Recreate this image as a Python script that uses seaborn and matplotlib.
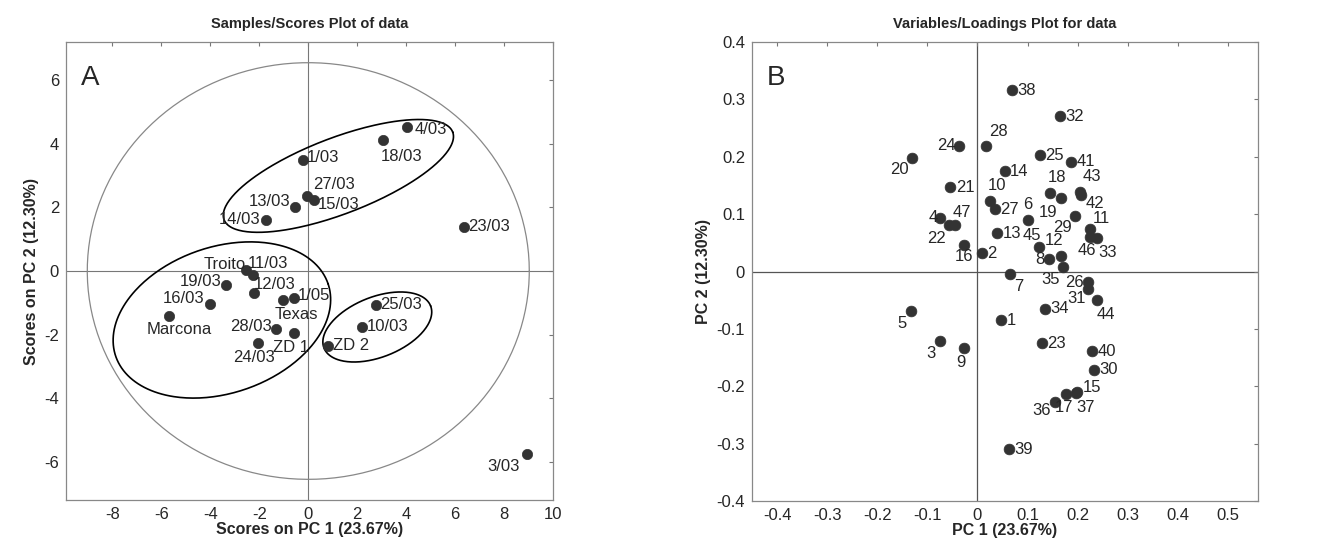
import numpy as np
import pandas as pd
import matplotlib.pyplot as plt
import seaborn as sns

# scores (panel A)
sample_names = ["4/03", "18/03", "1/03", "27/03", "15/03", "13/03", "14/03", "23/03",
                "Troito", "11/03", "19/03", "12/03", "16/03", "Texas", "1/05", "Marcona",
                "28/03", "ZD 1", "24/03", "ZD 2", "25/03", "10/03", "3/03"]
pc1_scores = [4.05, 3.07, -0.23, -0.04, 0.23, -0.55, -1.71, 6.38,
              -2.55, -2.25, -3.37, -2.21, -4.02, -1.05, -0.59, -5.70,
              -1.30, -0.59, -2.05, 0.82, 2.76, 2.20, 8.94]
pc2_scores = [4.53, 4.11, 3.48, 2.35, 2.22, 2.01, 1.59, 1.39,
              0.04, -0.12, -0.43, -0.69, -1.03, -0.90, -0.85, -1.43,
              -1.82, -1.95, -2.27, -2.35, -1.06, -1.76, -5.75]

# loadings (panel B)
var_names = [str(i) for i in range(1, 48)]
pc1_load = [0.047, 0.009, -0.075, -0.074, -0.133, 0.100, 0.065, 0.143, -0.027, 0.026,
            0.224, 0.166, 0.040, 0.054, 0.199, -0.027, 0.176, 0.145, 0.167, -0.131,
            -0.054, -0.057, 0.128, -0.037, 0.124, 0.221, 0.035, 0.017, 0.195, 0.233,
            0.221, 0.164, 0.238, 0.135, 0.170, 0.154, 0.197, 0.068, 0.063, 0.228,
            0.187, 0.207, 0.205, 0.238, 0.122, 0.224, -0.045]
pc2_load = [-0.085, 0.032, -0.121, 0.094, -0.068, 0.090, -0.004, 0.021, -0.133, 0.123,
            0.075, 0.027, 0.067, 0.175, -0.210, 0.046, -0.214, 0.137, 0.128, 0.198,
            0.147, 0.081, -0.125, 0.219, 0.203, -0.019, 0.109, 0.219, 0.097, -0.171,
            -0.030, 0.271, 0.059, -0.065, 0.008, -0.227, -0.212, 0.316, -0.310, -0.139,
            0.191, 0.134, 0.138, -0.050, 0.043, 0.061, 0.081]

# confidence ellipse (95%) and group ellipses: center, half-axis vectors
conf_ellipse = [0.0, 0.0, 9.03, 6.55]
group_ellipses = [
    [1.23, 2.99, 4.67, 1.38, -0.556, 1.114],
    [-3.53, -1.54, 4.337, 1.142, -0.968, 2.174],
    [2.82, -1.76, 2.178, 0.663, -0.452, 0.879],
]

# label offsets in points (dx, dy, ha, va)
score_offsets = {
    "4/03": (5, -2, "left", "center"), "18/03": (-2, -6, "left", "top"),
    "1/03": (3, 2, "left", "center"), "27/03": (4, 3, "left", "bottom"),
    "15/03": (3, -3, "left", "center"), "13/03": (-3, 4, "right", "center"),
    "14/03": (-4, 1, "right", "center"), "23/03": (3, 0, "left", "center"),
    "Troito": (0, 4, "right", "center"), "11/03": (-4, 8, "left", "center"),
    "19/03": (-3, 2, "right", "center"), "12/03": (0, 6, "left", "center"),
    "16/03": (-4, 4, "right", "center"), "Texas": (-6, -5, "left", "top"),
    "1/05": (3, 2, "left", "center"), "Marcona": (-16, -4, "left", "top"),
    "28/03": (-3, 2, "right", "center"), "ZD 1": (-2, -5, "center", "top"),
    "24/03": (-3, -5, "center", "top"), "ZD 2": (3, 0, "left", "center"),
    "25/03": (3, 0, "left", "center"), "10/03": (3, 0, "left", "center"),
    "3/03": (-5, -4, "right", "top"),
}
load_right = (4, 0, "left", "center")
load_offsets = {
    "20": (-2, -3, "right", "top"), "24": (-2, 0, "right", "center"),
    "28": (2, 5, "left", "bottom"), "21": load_right, "10": (-2, 6, "left", "bottom"),
    "18": (-2, 6, "left", "bottom"), "43": (2, 6, "left", "bottom"),
    "42": (3, -1, "left", "top"), "19": (-3, -5, "right", "top"),
    "6": (0, 6, "center", "bottom"), "4": (-2, 0, "right", "center"),
    "47": (-2, 4, "left", "bottom"), "22": (-2, -4, "right", "top"),
    "29": (-2, -3, "right", "top"), "11": (2, 2, "left", "bottom"),
    "46": (-2, -5, "center", "top"), "33": (1, -5, "left", "top"),
    "45": (2, 3, "right", "bottom"), "12": (-5, 6, "center", "bottom"),
    "16": (0, -3, "center", "top"), "8": (-3, 0, "right", "center"),
    "35": (-2, -4, "right", "top"), "7": (3, -4, "left", "top"),
    "26": (-3, 0, "right", "center"), "31": (-2, -7, "right", "center"),
    "44": (0, -5, "left", "top"), "5": (-3, -4, "right", "top"),
    "3": (-3, -4, "right", "top"), "9": (-2, -5, "center", "top"),
    "17": (-1, -4, "center", "top"), "36": (-3, -1, "right", "top"),
    "37": (0, -5, "left", "top"), "15": (4, 3, "left", "center"),
}

scores = pd.DataFrame({"name": sample_names, "pc1": pc1_scores, "pc2": pc2_scores})
loads = pd.DataFrame({"name": var_names, "pc1": pc1_load, "pc2": pc2_load})

sns.set_style("white")
plt.rcParams["font.family"] = ["Liberation Sans", "DejaVu Sans"]
plt.rcParams["axes.unicode_minus"] = False

fig = plt.figure(figsize=(13.41, 5.47), dpi=100)
ax1 = fig.add_axes([0.0492, 0.0859, 0.3632, 0.8373])
ax2 = fig.add_axes([0.5608, 0.0841, 0.3773, 0.8390])

dot = "#333333"
lab_size = 12

# panel A
ax1.axhline(0, color="#777777", lw=0.8, zorder=0)
ax1.axvline(0, color="#777777", lw=0.8, zorder=0)
t = np.linspace(0, 2 * np.pi, 300)
cx, cy, rx, ry = conf_ellipse
ax1.plot(cx + rx * np.cos(t), cy + ry * np.sin(t), color="#888888", lw=0.9)
for e in group_ellipses:
    ex = e[0] + e[2] * np.cos(t) + e[4] * np.sin(t)
    ey = e[1] + e[3] * np.cos(t) + e[5] * np.sin(t)
    ax1.plot(ex, ey, color="black", lw=1.2)

sns.scatterplot(data=scores, x="pc1", y="pc2", ax=ax1, color=dot, s=55,
                edgecolor=dot, linewidth=0.5, zorder=3)
for _, r in scores.iterrows():
    dx, dy, ha, va = score_offsets[r["name"]]
    ax1.annotate(r["name"], (r["pc1"], r["pc2"]), xytext=(dx, dy),
                 textcoords="offset points", ha=ha, va=va, fontsize=lab_size)

ax1.set_xlim(-9.9, 10.0)
ax1.set_ylim(-7.2, 7.2)
ax1.set_xticks(np.arange(-8, 11, 2))
ax1.set_yticks(np.arange(-6, 7, 2))
ax1.set_xlabel("Scores on PC 1 (23.67%)", fontsize=11.5, fontweight="bold", labelpad=0)
ax1.set_ylabel("Scores on PC 2 (12.30%)", fontsize=11.5, fontweight="bold")
ax1.set_title("Samples/Scores Plot of data", fontsize=10.5, fontweight="bold", pad=10)
ax1.text(0.03, 0.95, "A", transform=ax1.transAxes, fontsize=20, va="top")

# panel B
ax2.axhline(0, color="#555555", lw=0.9, zorder=0)
ax2.axvline(0, color="#555555", lw=0.9, zorder=0)
sns.scatterplot(data=loads, x="pc1", y="pc2", ax=ax2, color=dot, s=60,
                edgecolor=dot, linewidth=0.5, zorder=3)
for _, r in loads.iterrows():
    dx, dy, ha, va = load_offsets.get(r["name"], load_right)
    ax2.annotate(r["name"], (r["pc1"], r["pc2"]), xytext=(dx, dy),
                 textcoords="offset points", ha=ha, va=va, fontsize=lab_size)

ax2.set_xlim(-0.45, 0.56)
ax2.set_ylim(-0.4, 0.4)
ax2.set_xticks(np.round(np.arange(-0.4, 0.51, 0.1), 1))
ax2.set_xticklabels(["-0.4", "-0.3", "-0.2", "-0.1", "0", "0.1", "0.2", "0.3", "0.4", "0.5"])
ax2.set_yticks(np.round(np.arange(-0.4, 0.41, 0.1), 1))
ax2.set_yticklabels(["-0.4", "-0.3", "-0.2", "-0.1", "0", "0.1", "0.2", "0.3", "0.4"])
ax2.set_xlabel("PC 1 (23.67%)", fontsize=11.5, fontweight="bold", labelpad=0)
ax2.set_ylabel("PC 2 (12.30%)", fontsize=11.5, fontweight="bold")
ax2.set_title("Variables/Loadings Plot for data", fontsize=10.5, fontweight="bold", pad=10)
ax2.text(0.03, 0.95, "B", transform=ax2.transAxes, fontsize=20, va="top")

for ax in (ax1, ax2):
    ax.tick_params(direction="in", top=True, right=True, length=3, color="#777777",
                   labelsize=12, pad=5)
    for sp in ax.spines.values():
        sp.set_color("#888888")
        sp.set_linewidth(0.9)

plt.savefig("out.png", dpi=100)
